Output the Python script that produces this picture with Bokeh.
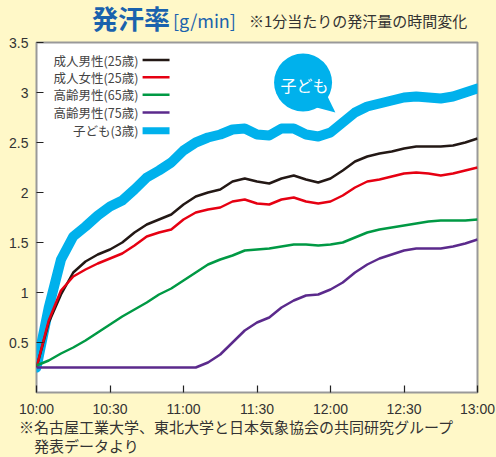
from bokeh.plotting import figure
from bokeh.models import FixedTicker, Range1d, Div
from bokeh.layouts import column
from bokeh.embed import file_html
from bokeh.resources import INLINE
from bokeh.core.properties import value

# ---- data (minutes after 10:00) ----
minutes = list(range(0, 181, 5))
child_3 = [0.25, 0.85, 1.33, 1.56, 1.66, 1.77, 1.86, 1.92, 2.03, 2.15, 2.22, 2.30, 2.42,
           2.50, 2.55, 2.58, 2.63, 2.64, 2.58, 2.57, 2.64, 2.64, 2.58, 2.56, 2.60, 2.70,
           2.80, 2.86, 2.89, 2.92, 2.95, 2.96, 2.95, 2.94, 2.96, 3.00, 3.04]
man_25 = [0.25, 0.70, 0.98, 1.20, 1.31, 1.38, 1.43, 1.50, 1.60, 1.68, 1.73, 1.78, 1.88,
          1.96, 2.00, 2.03, 2.11, 2.14, 2.11, 2.09, 2.14, 2.17, 2.13, 2.10, 2.14, 2.22,
          2.31, 2.36, 2.39, 2.41, 2.44, 2.46, 2.46, 2.46, 2.47, 2.50, 2.54]
woman_25 = [0.25, 0.72, 1.02, 1.16, 1.23, 1.29, 1.34, 1.39, 1.47, 1.56, 1.60, 1.63, 1.73,
            1.80, 1.83, 1.85, 1.91, 1.93, 1.89, 1.88, 1.93, 1.95, 1.91, 1.89, 1.91, 1.97,
            2.05, 2.11, 2.13, 2.16, 2.19, 2.20, 2.19, 2.17, 2.19, 2.22, 2.25]
man_65 = [0.27, 0.32, 0.39, 0.45, 0.52, 0.60, 0.68, 0.76, 0.83, 0.90, 0.98, 1.04, 1.12,
          1.20, 1.28, 1.33, 1.37, 1.42, 1.43, 1.44, 1.46, 1.48, 1.48, 1.47, 1.48, 1.50,
          1.55, 1.60, 1.63, 1.65, 1.67, 1.69, 1.71, 1.72, 1.72, 1.72, 1.73]
man_75 = [0.25, 0.25, 0.25, 0.25, 0.25, 0.25, 0.25, 0.25, 0.25, 0.25, 0.25, 0.25, 0.25,
          0.25, 0.30, 0.38, 0.50, 0.62, 0.70, 0.75, 0.85, 0.92, 0.97, 0.98, 1.03, 1.10,
          1.20, 1.28, 1.34, 1.38, 1.42, 1.44, 1.44, 1.44, 1.46, 1.49, 1.53]

series_names = ["成人男性(25歳)", "成人女性(25歳)", "高齢男性(65歳)", "高齢男性(75歳)", "子ども(3歳)"]
x_ticks = [0, 30, 60, 90, 120, 150, 180]
x_tick_labels = ["10:00", "10:30", "11:00", "11:30", "12:00", "12:30", "13:00"]
y_ticks = [0.5, 1, 1.5, 2, 2.5, 3, 3.5]
y_tick_labels = ["0.5", "1", "1.5", "2", "2.5", "3", "3.5"]

# ---- style ----
BG = "#FFF8C8"
BLUE = "#00B1EC"
TITLE_BLUE = "#1A62AD"
COLORS = ["#231815", "#E60012", "#009944", "#5B2A8C", BLUE]
JP = "Noto Sans CJK JP"
NUM = "Liberation Sans"
TXT = "#333333"

p = figure(frame_width=441, frame_height=350, output_backend="svg", toolbar_location=None,
           x_range=Range1d(0, 180), y_range=Range1d(0, 3.5),
           min_border_left=36, min_border_right=19, min_border_top=8, min_border_bottom=26)
p.background_fill_color = "white"
p.border_fill_color = BG
p.outline_line_color = "#999999"
p.outline_line_width = 2
p.grid.visible = False

for ax, ticks, labels in ((p.xaxis, x_ticks, x_tick_labels), (p.yaxis, y_ticks, y_tick_labels)):
    ax.ticker = FixedTicker(ticks=ticks)
    ax.major_label_overrides = {t: l for t, l in zip(ticks, labels)}
    ax.major_tick_in = 7
    ax.major_tick_out = 0
    ax.minor_tick_line_color = None
    ax.axis_line_color = None
    ax.major_tick_line_color = "#222222"
    ax.major_tick_line_width = 1.2
    ax.major_label_text_font = NUM
    ax.major_label_text_font_size = "14px"
    ax.major_label_text_color = TXT
    ax.major_label_standoff = 8

# ---- lines ----
p.line(minutes, child_3, line_color=BLUE, line_width=10, line_join="round", line_cap="round")
for ys, c in ((man_25, COLORS[0]), (woman_25, COLORS[1]), (man_65, COLORS[2]), (man_75, COLORS[3])):
    p.line(minutes, ys, line_color=c, line_width=2.5, line_join="round")

# ---- legend (label left of swatch) ----
leg_rows_v = [3.325, 3.153, 2.977, 2.80, 2.617]
p.text(x=[41.6] * 5, y=leg_rows_v, text=series_names, text_align="right", text_baseline="middle",
       text_font=value(JP), text_font_size="12.5px", text_color="#444444")
for i, v in enumerate(leg_rows_v):
    p.segment(x0=[43.3], y0=[v], x1=[54.3], y1=[v], line_color=COLORS[i],
              line_width=7 if i == 4 else 2.5)

# ---- speech bubble ----
p.patch([118.8, 122.0, 114.3], [2.96, 2.80, 2.85], fill_color=BLUE, line_color=None)
p.scatter([108.8], [3.10], size=58, fill_color=BLUE, line_color=None)
p.text(x=[109.4], y=[3.08], text=["子ども"], text_align="center", text_baseline="middle",
       text_font=value(JP), text_font_size="16px", text_color="white")

# ---- titles & notes ----
def span(left, top, size, text, color=TXT, weight="normal"):
    return ('<span style="position:absolute;left:%dpx;top:%spx;font-size:%s;line-height:%s;'
            'color:%s;font-weight:%s;white-space:nowrap;">%s</span>' % (left, top, size, size, color, weight, text))

base = {"font-family": "'%s', sans-serif" % JP, "background-color": BG, "position": "relative"}

top_html = (span(92, 5, "26px", "発汗率", TITLE_BLUE, "bold")
            + span(173, 11, "18px", "[g/min]", TITLE_BLUE)
            + span(249, 13, "15px", "※1分当たりの発汗量の時間変化"))
bottom_html = (span(19, 0, "15px", "※名古屋工業大学、東北大学と日本気象協会の共同研究グループ")
               + span(34, 19, "15px", "発表データより"))

top_div = Div(text=top_html, width=496, height=34, margin=0, styles=base)
bottom_div = Div(text=bottom_html, width=496, height=39, margin=0, styles=base)

layout = column(top_div, p, bottom_div, spacing=0)

html = file_html(layout, INLINE)
html = html.replace("</head>", "<style>html,body{margin:0;padding:0;background:%s;}</style></head>" % BG, 1)
open("out.html", "w").write(html)
